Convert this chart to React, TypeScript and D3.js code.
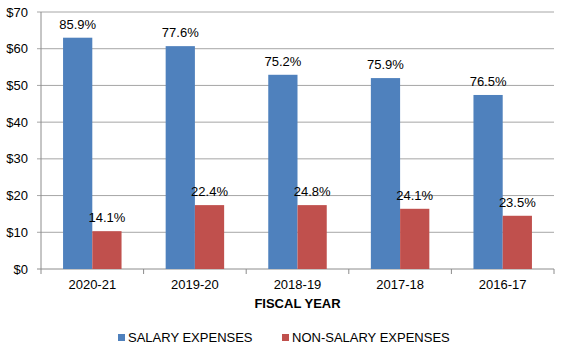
import { useEffect, useRef } from 'react';
import * as d3 from 'd3';

const years = ['2020-21', '2019-20', '2018-19', '2017-18', '2016-17'];
const salary = [63.0, 60.7, 52.9, 52.0, 47.4];
const nonSalary = [10.3, 17.4, 17.4, 16.4, 14.5];
const salaryPct = ['85.9%', '77.6%', '75.2%', '75.9%', '76.5%'];
const nonSalaryPct = ['14.1%', '22.4%', '24.8%', '24.1%', '23.5%'];
const yTicks = [0, 10, 20, 30, 40, 50, 60, 70];
const seriesNames = ['SALARY EXPENSES', 'NON-SALARY EXPENSES'];
const colors = ['#4F81BD', '#C0504D'];

export default function App() {
  const svgRef = useRef<SVGSVGElement>(null);

  useEffect(() => {
    if (!svgRef.current) return;
    const width = 564;
    const height = 351;
    const margin = { top: 12, right: 10, bottom: 82, left: 41 };
    const innerWidth = width - margin.left - margin.right;
    const innerHeight = height - margin.top - margin.bottom;
    const font = 'Liberation Sans, Arial, sans-serif';

    const svg = d3.select(svgRef.current);
    svg.selectAll('*').remove();

    const g = svg.append('g').attr('transform', `translate(${margin.left},${margin.top})`);

    const x0 = d3.scaleBand<string>().domain(years).range([0, innerWidth]).paddingInner(0.43).paddingOuter(0.215);
    const step = innerWidth / years.length;
    const x1 = d3.scaleBand<number>().domain([0, 1]).range([0, x0.bandwidth()]);
    const y = d3.scaleLinear().domain([0, 70]).range([innerHeight, 0]);

    // gridlines + y ticks
    g.selectAll('.grid')
      .data(yTicks)
      .enter()
      .append('line')
      .attr('x1', -4)
      .attr('x2', innerWidth)
      .attr('y1', (d) => y(d))
      .attr('y2', (d) => y(d))
      .attr('stroke', (d) => (d === 0 ? '#8c8c8c' : '#a6a6a6'))
      .attr('stroke-width', 1);

    g.selectAll('.ylabel')
      .data(yTicks)
      .enter()
      .append('text')
      .attr('x', -13)
      .attr('y', (d) => y(d))
      .attr('dy', '0.35em')
      .attr('text-anchor', 'end')
      .attr('font-family', font)
      .attr('font-size', 13)
      .attr('fill', '#000')
      .text((d) => `$${d}`);

    // y axis line
    g.append('line')
      .attr('x1', 0)
      .attr('x2', 0)
      .attr('y1', 0)
      .attr('y2', innerHeight)
      .attr('stroke', '#8c8c8c');

    // category ticks
    g.selectAll('.xtick')
      .data(d3.range(years.length + 1))
      .enter()
      .append('line')
      .attr('x1', (d) => d * step)
      .attr('x2', (d) => d * step)
      .attr('y1', innerHeight)
      .attr('y2', innerHeight + 5)
      .attr('stroke', '#8c8c8c');

    const groups = g
      .selectAll('.grp')
      .data(years)
      .enter()
      .append('g')
      .attr('transform', (d) => `translate(${x0(d)},0)`);

    [salary, nonSalary].forEach((vals, s) => {
      const labels = s === 0 ? salaryPct : nonSalaryPct;
      groups
        .append('rect')
        .attr('x', x1(s) || 0)
        .attr('width', x1.bandwidth())
        .attr('y', (_d, i) => y(vals[i]))
        .attr('height', (_d, i) => innerHeight - y(vals[i]))
        .attr('fill', colors[s]);
      groups
        .append('text')
        .attr('x', (x1(s) || 0) + x1.bandwidth() / 2)
        .attr('y', (_d, i) => y(vals[i]) - 9)
        .attr('text-anchor', 'middle')
        .attr('font-family', font)
        .attr('font-size', 13)
        .attr('fill', '#000')
        .text((_d, i) => labels[i]);
    });

    // x labels
    g.selectAll('.xlabel')
      .data(years)
      .enter()
      .append('text')
      .attr('x', (d) => (x0(d) || 0) + x0.bandwidth() / 2)
      .attr('y', innerHeight + 20)
      .attr('text-anchor', 'middle')
      .attr('font-family', font)
      .attr('font-size', 13)
      .attr('fill', '#000')
      .text((d) => d);

    g.append('text')
      .attr('x', innerWidth / 2)
      .attr('y', innerHeight + 39)
      .attr('text-anchor', 'middle')
      .attr('font-family', font)
      .attr('font-size', 13)
      .attr('font-weight', 'bold')
      .attr('fill', '#000')
      .text('FISCAL YEAR');

    // legend
    const legendX = [118, 282];
    seriesNames.forEach((name, i) => {
      svg
        .append('rect')
        .attr('x', legendX[i])
        .attr('y', 334)
        .attr('width', 7)
        .attr('height', 7)
        .attr('fill', colors[i]);
      svg
        .append('text')
        .attr('x', legendX[i] + 10)
        .attr('y', 342)
        .attr('font-family', font)
        .attr('font-size', 13)
        .attr('fill', '#000')
        .text(name);
    });
  }, []);

  return (
    <svg
      ref={svgRef}
      width={564}
      height={351}
      style={{ position: 'absolute', left: 0, top: 0, background: '#fff' }}
    />
  );
}
